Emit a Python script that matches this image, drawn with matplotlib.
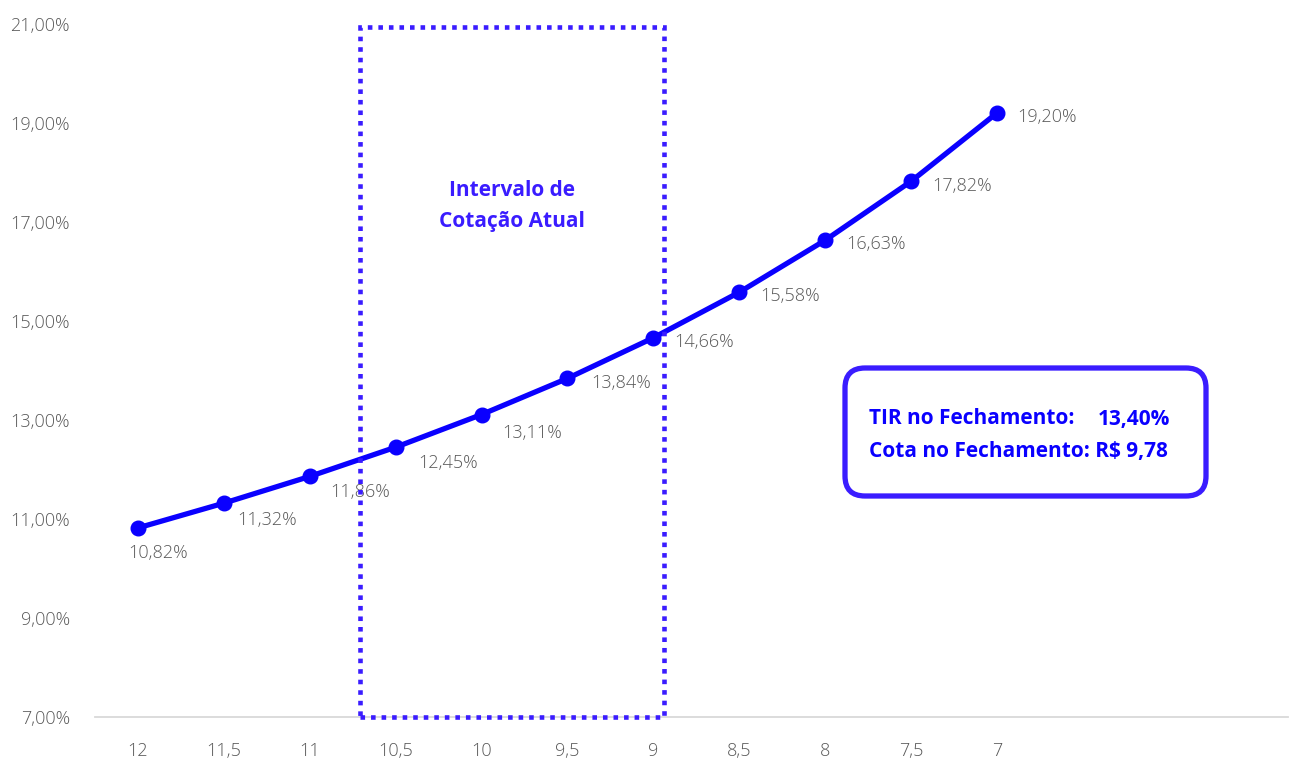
import matplotlib
matplotlib.use("Agg")
import matplotlib.pyplot as plt
from matplotlib.patches import Rectangle, FancyBboxPatch

# Cotação (R$) e TIR correspondente (%)
cotacoes = ["12", "11,5", "11", "10,5", "10", "9,5", "9", "8,5", "8", "7,5", "7"]
tir = [10.82, 11.32, 11.86, 12.45, 13.11, 13.84, 14.66, 15.58, 16.63, 17.82, 19.20]
y_ticks = [7, 9, 11, 13, 15, 17, 19, 21]

tir_fechamento = "13,40%"
cota_fechamento = "R$ 9,78"

LINE_BLUE = "#0a00ff"
BOX_BLUE = "#3a1cff"
GRAY = "#595959"
FONT = ["Open Sans", "DejaVu Sans"]

# label offsets (points) relative to each marker
label_offsets = [(-7, -18), (10, -12), (15, -11), (16, -11), (15, -13),
                 (17, -3), (15, -3), (15, -3), (15, -3), (15, -3), (15, -3)]

def fmt_pct(v):
    return f"{v:.2f}".replace(".", ",") + "%"

fig = plt.figure(figsize=(12.89, 7.62), dpi=100)
ax = fig.add_axes([95 / 1289, 45 / 762, 1193 / 1289, 693 / 762])

x = list(range(len(cotacoes)))
ax.plot(x, tir, color=LINE_BLUE, lw=3.8, marker="o", ms=10.5,
        solid_capstyle="round", zorder=3)

for xi, v, (dx, dy) in zip(x, tir, label_offsets):
    ax.annotate(fmt_pct(v), (xi, v), xytext=(dx, dy), textcoords="offset points",
                ha="left", va="center", fontsize=13, color=GRAY,
                family=FONT, fontweight=300, zorder=4)

ax.set_xlim(-0.5, 13.39)
ax.set_ylim(7, 21)
ax.set_xticks(x)
ax.set_xticklabels(cotacoes)
ax.set_yticks(y_ticks)
ax.set_yticklabels([fmt_pct(v) for v in y_ticks])
ax.tick_params(axis="both", length=0, labelsize=13, labelcolor=GRAY)
ax.tick_params(axis="y", pad=18)
ax.tick_params(axis="x", pad=18)
for lab in ax.get_xticklabels() + ax.get_yticklabels():
    lab.set_family(FONT)
    lab.set_fontweight(300)

for s in ["top", "right", "left"]:
    ax.spines[s].set_visible(False)
ax.spines["bottom"].set_color("#d9d9d9")
ax.spines["bottom"].set_linewidth(1.3)

# dotted band marking the current price range
band = Rectangle((2.58, 7.0), 6.12 - 2.58, 13.94, fill=False,
                 edgecolor=BOX_BLUE, lw=3.3, linestyle=(0, (1, 1.3)),
                 capstyle="butt", zorder=5, clip_on=False)
ax.add_patch(band)
ax.text(4.35, 17.32, "Intervalo de\nCotação Atual", ha="center", va="center",
        fontsize=15, fontweight="bold", color=BOX_BLUE, family=FONT,
        linespacing=1.62)

# info box with closing values
info = FancyBboxPatch((8.45, 2.66), 3.61, 1.28,
                      boxstyle="round,pad=0,rounding_size=0.2",
                      transform=fig.dpi_scale_trans, fill=True, facecolor="white",
                      edgecolor=BOX_BLUE, lw=3.8, zorder=6)
fig.patches.append(info)
fig.text(8.69 / 12.89, 1 - 419 / 762, "TIR no Fechamento:", ha="left", va="center",
         fontsize=15, fontweight="bold", color=LINE_BLUE, family=FONT, zorder=7)
fig.text(11.70 / 12.89, 1 - 419 / 762, tir_fechamento, ha="right", va="center",
         fontsize=15, fontweight="bold", color=LINE_BLUE, family=FONT, zorder=7)
fig.text(8.69 / 12.89, 1 - 452 / 762, "Cota no Fechamento: " + cota_fechamento,
         ha="left", va="center", fontsize=15, fontweight="bold", color=LINE_BLUE,
         family=FONT, zorder=7)

fig.savefig("out.png", dpi=100, facecolor="white")
